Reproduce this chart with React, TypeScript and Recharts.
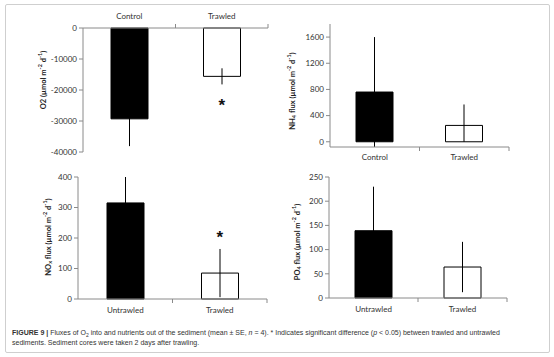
import {
  ComposedChart, Bar, Scatter, XAxis, YAxis, ErrorBar, Cell, Label
} from "recharts";

const topCategories = ["Control", "Trawled"];
const bottomCategories = ["Untrawled", "Trawled"];

const o2Mean = [-29300, -15600];
const o2Se = [8800, 2600];
const o2Star = [null, -24300];

const nh4Mean = [760, 250];
const nh4Se: (number | number[])[] = [840, [250, 320]];
const nh4Star = [null, null];

const noxMean = [315, 85];
const noxSe = [85, 79];
const noxStar = [null, 210];

const po4Mean = [139, 64];
const po4Se = [91, 52];
const po4Star = [null, null];

const o2Ticks = [-40000, -30000, -20000, -10000, 0];
const nh4Ticks = [0, 400, 800, 1200, 1600];
const noxTicks = [0, 100, 200, 300, 400];
const po4Ticks = [0, 50, 100, 150, 200, 250];

const FILLS = ["#000000", "#ffffff"];
const AXIS = "#8a8a8a";
const FONT = "Lato, 'Open Sans', sans-serif";

const build = (cats: string[], mean: number[], se: any[], star: any[]) =>
  cats.map((name, i) => ({ name, mean: mean[i], se: se[i], star: star[i] }));

function CatTick(props: any) {
  const { x, y, payload, orient, half, gap } = props;
  const top = orient === "top";
  const axisY = top ? y + gap : y - gap;
  const dir = top ? -1 : 1;
  return (
    <g>
      <text x={x} y={y} dy={top ? 0 : "0.72em"} textAnchor="middle" fontSize={8} fill="#333" fontFamily={FONT}>
        {payload.value}
      </text>
      <line x1={x + half} x2={x + half} y1={axisY} y2={axisY + dir * 4} stroke={AXIS} />
    </g>
  );
}

function Star(props: any) {
  const { cx, cy, payload } = props;
  if (payload == null || payload.star == null || cy == null || isNaN(cy)) return <g />;
  return (
    <text x={cx} y={cy + 8} textAnchor="middle" fontSize={17} fontWeight="bold" fill="#111" fontFamily="'Liberation Sans', sans-serif">
      *
    </text>
  );
}

// parts: [text, kind] where kind is "sub" | "sup" | undefined
function axisTitle(cx: number, cy: number, parts: [string, string?][]) {
  const shift = (k?: string) => (k === "sub" ? 2 : k === "sup" ? -3 : 0);
  return () => {
    let prev = 0;
    return (
      <text
        x={cx} y={cy}
        transform={`rotate(-90, ${cx}, ${cy})`}
        textAnchor="middle"
        dominantBaseline="central"
        fontSize={7.5}
        fontWeight="bold"
        fill="#222"
        fontFamily={FONT}
      >
        {parts.map(([t, kind], i) => {
          const s = shift(kind);
          const dy = s - prev;
          prev = s;
          return (
            <tspan key={i} fontSize={kind ? 5.5 : 7.5} dy={dy}>
              {t}
            </tspan>
          );
        })}
      </text>
    );
  };
}

interface PanelProps {
  left: number; top: number; width: number; height: number;
  margin: { top: number; right: number; bottom: number; left: number };
  yWidth: number; xHeight: number; orient: "top" | "bottom"; gap: number;
  data: any[]; domain: [number, number]; ticks: number[];
  title: () => any;
}

function Panel(p: PanelProps) {
  const plotW = p.width - p.margin.left - p.margin.right - p.yWidth;
  const half = plotW / 4;
  return (
    <div style={{ position: "absolute", left: p.left, top: p.top }}>
      <ComposedChart width={p.width} height={p.height} data={p.data} margin={p.margin} barSize={37}>
        <XAxis
          dataKey="name"
          orientation={p.orient}
          height={p.xHeight}
          stroke={AXIS}
          tickSize={0}
          tickMargin={p.gap}
          tick={(t: any) => <CatTick {...t} orient={p.orient} half={half} gap={p.gap} />}
        />
        <YAxis
          type="number"
          domain={p.domain}
          ticks={p.ticks}
          width={p.yWidth}
          stroke={AXIS}
          tickSize={4}
          tickMargin={2}
          interval={0}
          tick={{ fontSize: 8, fill: "#333", fontFamily: FONT }}
        >
          <Label content={p.title} />
        </YAxis>
        <Bar dataKey="mean" stroke="#000" strokeWidth={1} isAnimationActive={false}>
          {p.data.map((_, i) => <Cell key={i} fill={FILLS[i % FILLS.length]} />)}
          <ErrorBar dataKey="se" width={0} stroke="#000" strokeWidth={1} direction="y" isAnimationActive={false} />
        </Bar>
        <Scatter dataKey="star" shape={Star} isAnimationActive={false} />
      </ComposedChart>
    </div>
  );
}

export default function App() {
  return (
    <div style={{ position: "absolute", left: 0, top: 0, width: 554, height: 357, background: "#fff", overflow: "hidden" }}>
      <div style={{ position: "absolute", left: 5, top: 4, width: 543, height: 347, border: "1px solid #cfcfcf", borderRadius: 2 }} />

      <Panel
        left={0} top={0} width={277} height={160}
        margin={{ top: 0, right: 9, bottom: 8, left: 0 }}
        yWidth={83} xHeight={28} orient="top" gap={9}
        data={build(topCategories, o2Mean, o2Se, o2Star)}
        domain={[-40000, 0]} ticks={o2Ticks}
        title={axisTitle(43, 80, [["O2 (\u00b5mol m"], ["-2", "sup"], [" d"], ["-1", "sup"], [")"]])}
      />
      <Panel
        left={277} top={0} width={277} height={170}
        margin={{ top: 24, right: 45, bottom: 0, left: 0 }}
        yWidth={53} xHeight={23} orient="bottom" gap={7}
        data={build(topCategories, nh4Mean, nh4Se, nh4Star)}
        domain={[0, 1800]} ticks={nh4Ticks}
        title={axisTitle(15, 91, [["NH"], ["4", "sub"], [" flux (\u00b5mol m"], ["-2", "sup"], [" d"], ["-1", "sup"], [")"]])}
      />
      <Panel
        left={0} top={160} width={277} height={170}
        margin={{ top: 17, right: 10, bottom: 0, left: 0 }}
        yWidth={78} xHeight={31} orient="bottom" gap={8}
        data={build(bottomCategories, noxMean, noxSe, noxStar)}
        domain={[0, 400]} ticks={noxTicks}
        title={axisTitle(48, 77, [["NO"], ["x", "sub"], [" flux (\u00b5mol m"], ["-2", "sup"], [" d"], ["-1", "sup"], [")"]])}
      />
      <Panel
        left={277} top={160} width={277} height={170}
        margin={{ top: 17, right: 47, bottom: 0, left: 0 }}
        yWidth={52} xHeight={32} orient="bottom" gap={8}
        data={build(bottomCategories, po4Mean, po4Se, po4Star)}
        domain={[0, 250]} ticks={po4Ticks}
        title={axisTitle(20, 82, [["PO"], ["4", "sub"], [" flux (\u00b5mol m"], ["-2", "sup"], [" d"], ["-1", "sup"], [")"]])}
      />

      <div style={{ position: "absolute", left: 12, top: 328, width: 535, fontFamily: "'Liberation Sans', Arial, sans-serif", fontSize: 7, lineHeight: "10px", color: "#333", whiteSpace: "nowrap" }}>
        <div>
          <b>FIGURE 9 |</b> Fluxes of O<sub style={{ fontSize: 5, lineHeight: 0 }}>2</sub> into and nutrients out of the sediment (mean ± SE, <i>n</i> = 4). * Indicates significant difference (<i>p</i> &lt; 0.05) between trawled and untrawled
        </div>
        <div>sediments. Sediment cores were taken 2 days after trawling.</div>
      </div>
    </div>
  );
}
